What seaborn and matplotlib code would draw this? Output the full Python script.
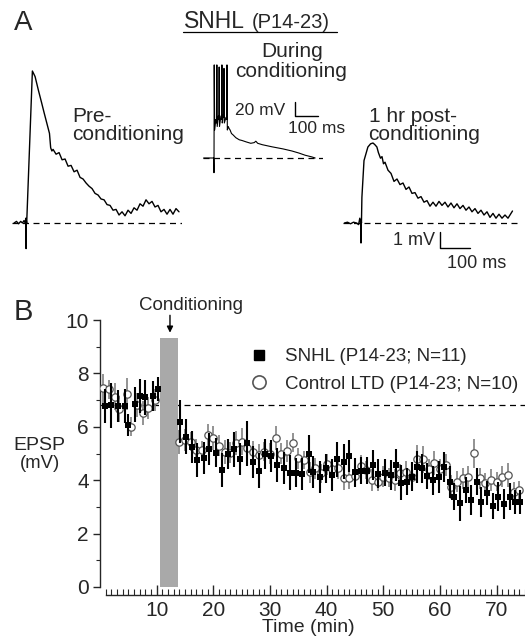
import numpy as np
import matplotlib
matplotlib.use('Agg')
import matplotlib.pyplot as plt
from matplotlib.lines import Line2D
import seaborn as sns

sns.set_style('ticks')
plt.rcParams['font.family'] = ['Liberation Sans', 'DejaVu Sans']

# ---------------- panel A traces (time in ms from stimulus, mV above rest) ----------------
pre_t = [-40, -32, -25, -18, -12, -7, -3, -1, 0, 0.5, 2, 21, 30, 41, 52, 60, 69, 78, 82, 86,
         90, 100, 110, 120, 130, 140, 150, 160, 170, 180, 190, 200, 210, 220, 230, 240, 250,
         260, 270, 280, 290, 300, 310, 320, 330, 340, 350, 360, 370, 380, 390, 400, 410, 420,
         430, 440, 450, 460, 470, 480, 490, 500, 510]
pre_v = [0.0, 0.1, -0.05, 0.1, 0.0, 0.15, 0.0, 0.3, -1.6, 0.2, 0.0, 9.5, 9.15, 8.3, 7.5, 6.9, 6.25, 5.6, 4.7, 4.5,
         4.6, 4.3, 4.4, 3.95, 4.0, 3.55, 3.6, 3.2, 3.3, 2.85, 2.75, 2.5, 2.3, 2.15, 1.85, 1.75, 1.5,
         1.45, 1.15, 1.1, 0.8, 0.85, 0.5, 0.7, 0.45, 0.8, 0.6, 0.95, 0.8, 1.2, 1.05, 1.45, 1.2, 1.35,
         1.0, 1.1, 0.7, 0.85, 0.55, 0.85, 0.55, 0.9, 0.7]

during_t = [-45, -10, -1, 0, 1, 3, 8, 11, 12.5, 14, 19, 21, 22.5, 24, 30, 33, 34.5, 36, 40, 42,
            43.5, 45, 52, 55, 56.5, 58, 62, 66, 70, 76, 83, 95, 110, 122, 140, 160, 175, 182,
            190, 210, 252, 300, 339, 370, 396, 426, 440]
during_v = [0, 0, 0, -21, 133, 40, 55, 50, 133, 45, 60, 55, 130, 45, 60, 55, 133, 50, 62, 58,
            128, 50, 58, 55, 133, 40, 45, 42, 40, 35, 33, 29, 26, 25, 23, 21, 22, 24,
            21, 19, 16, 13, 10, 7, 4, 1.5, 0]

post_t = [-55, -45, -35, -25, -15, -8, -4, -1, 0, 0.5, 1.5, 3, 10, 23, 32, 40, 46, 53, 58,
          65, 70, 75, 80, 90, 100, 110, 120, 130, 140, 150, 160, 170, 180, 190, 200, 210, 220,
          230, 240, 250, 260, 270, 280, 290, 300, 310, 320, 330, 340, 350, 360, 370, 380, 390,
          400, 410, 420, 430, 440, 450, 460, 470, 480, 490, 500, 505]
post_v = [0.0, 0.05, -0.05, 0.05, 0.0, -0.1, 0.3, 0.0, -1.25, 0.2, 0.0, 1.6, 3.9, 4.75, 4.95, 5.0, 4.9, 4.75, 4.4,
          4.05, 4.15, 3.7, 3.8, 3.3, 3.1, 2.6, 2.75, 2.4, 2.5, 2.1, 2.25, 1.85, 1.9, 1.55, 1.65, 1.3, 1.4,
          1.05, 1.3, 1.05, 1.35, 1.1, 1.3, 1.0, 1.25, 0.95, 1.2, 0.9, 1.1, 0.8, 1.0, 0.7, 0.9, 0.6,
          0.8, 0.5, 0.7, 0.35, 0.6, 0.3, 0.55, 0.3, 0.5, 0.3, 0.6, 0.75]

# ---------------- panel B: EPSP amplitude (mV) vs time (min) ----------------
baseline_mv = 6.8
cond_start, cond_end, cond_top = 10.6, 13.8, 9.33

snhl_time = [0.8, 1.9, 3.2, 4.4, 5.0, 6.1, 7.1, 8.0, 9.3, 10.2,
             14.1, 15.2, 16.2, 17.2, 18.3, 19.3, 20.5, 21.5, 22.5, 23.7,
             24.7, 25.9, 27.0, 28.1, 29.1, 30.2, 31.3, 32.4, 33.5, 34.6,
             35.6, 36.8, 37.6, 38.8, 39.8, 40.9, 41.9, 43.0, 44.0, 45.0,
             46.1, 47.1, 48.1, 49.1, 50.3, 51.3, 52.3, 53.2, 54.1, 55.0,
             55.9, 56.8, 57.7, 58.8, 59.9, 60.7, 61.7, 62.5, 63.5, 64.5,
             65.4, 66.5, 67.3, 68.3, 69.3, 70.3, 71.3, 72.3, 73.2, 74.1]
snhl_epsp = [6.78, 6.80, 6.78, 6.78, 6.07, 6.84, 7.15, 7.10, 7.15, 7.43,
             6.19, 5.63, 5.26, 4.76, 4.82, 5.16, 5.03, 4.38, 4.98, 5.16,
             4.78, 5.38, 4.69, 4.36, 4.98, 4.91, 4.57, 4.44, 4.28, 4.28,
             4.23, 4.98, 4.30, 4.13, 4.44, 4.20, 4.78, 4.69, 4.91, 4.30,
             4.36, 4.36, 4.57, 4.25, 4.28, 4.20, 4.57, 3.91, 3.94, 4.13,
             4.50, 4.44, 4.16, 4.00, 4.13, 4.50, 3.94, 3.38, 3.13, 3.63,
             3.26, 3.94, 3.19, 3.53, 3.03, 3.38, 3.11, 3.38, 3.19, 3.19]
snhl_sem = [0.65, 0.85, 0.6, 0.65, 0.4, 0.65, 0.65, 0.65, 0.55, 0.45,
            0.8, 0.65, 0.6, 0.65, 0.6, 0.6, 0.55, 0.65, 0.55, 0.65,
            0.6, 0.85, 0.6, 0.65, 0.55, 0.6, 0.65, 0.6, 0.65, 0.55,
            0.6, 0.7, 0.6, 0.6, 0.55, 0.6, 0.65, 0.65, 0.6, 0.55,
            0.5, 0.5, 0.55, 0.55, 0.5, 0.55, 0.6, 0.65, 0.5, 0.55,
            0.6, 0.55, 0.5, 0.55, 0.6, 0.55, 0.6, 0.5, 0.65, 0.5,
            0.55, 0.5, 0.55, 0.45, 0.5, 0.55, 0.55, 0.5, 0.45, 0.45]

ctrl_time = [0.6, 1.6, 2.6, 3.4, 4.7, 5.5, 6.5, 7.6, 8.5, 9.7] + list(range(14, 75))
ctrl_epsp = [7.44, 7.40, 7.13, 6.67, 7.23, 6.00, 6.80, 6.50, 6.70, 7.00,
             5.44, 5.50, 5.44, 5.13, 5.13, 5.69, 5.57, 5.29, 5.07, 5.03,
             5.38, 5.44, 5.20, 5.07, 4.94, 5.07, 5.00, 5.57, 5.00, 5.10,
             5.41, 4.82, 4.76, 4.30, 4.44, 4.26, 4.60, 4.41, 4.44, 4.10,
             4.07, 4.16, 4.53, 4.38, 4.01, 3.94, 4.13, 4.10, 4.01, 4.26,
             4.32, 4.13, 4.78, 4.78, 4.41, 4.63, 4.41, 4.57, 3.76, 3.94,
             4.07, 4.13, 5.01, 4.07, 3.91, 4.01, 3.94, 4.13, 4.19, 3.57,
             3.63]
ctrl_sem = [0.55, 0.35, 0.5, 0.5, 0.6, 0.35, 0.45, 0.45, 0.4, 0.4,
            0.45, 0.4, 0.35, 0.4, 0.35, 0.4, 0.45, 0.4, 0.45, 0.4,
            0.45, 0.5, 0.45, 0.4, 0.4, 0.35, 0.4, 0.45, 0.4, 0.4,
            0.35, 0.4, 0.35, 0.4, 0.4, 0.35, 0.4, 0.35, 0.4, 0.45,
            0.4, 0.35, 0.4, 0.35, 0.4, 0.35, 0.4, 0.35, 0.4, 0.35,
            0.4, 0.45, 0.55, 0.5, 0.4, 0.45, 0.4, 0.4, 0.45, 0.4,
            0.4, 0.4, 0.55, 0.4, 0.35, 0.4, 0.35, 0.4, 0.45, 0.35,
            0.35]

labels = ['SNHL (P14-23; N=11)', 'Control LTD (P14-23; N=10)']

# ---------------- figure ----------------
W, H = 525, 637
fig = plt.figure(figsize=(W / 100, H / 100), dpi=100)


def box(x0, y0, x1, y1):
    # pixel box measured from top-left -> figure fraction rect
    return [x0 / W, 1 - y1 / H, (x1 - x0) / W, (y1 - y0) / H]


def fx(x):
    return x / W


def fy(y):
    return 1 - y / H


dash = (0, (4.8, 3.6))

# Panel A
ax_pre = fig.add_axes(box(12, 60, 182, 260))
ax_dur = fig.add_axes(box(203, 60, 323, 180))
ax_post = fig.add_axes(box(343, 60, 522, 260))
for ax, t, v in [(ax_pre, pre_t, pre_v), (ax_dur, during_t, during_v), (ax_post, post_t, post_v)]:
    ax.axhline(0, color='black', lw=0.9, ls=dash)
    sns.lineplot(x=t, y=v, ax=ax, color='black', lw=1.0 if ax is not ax_dur else 0.8,
                 estimator=None, sort=False)
    ax.axis('off')
ax_pre.set(xlim=(-47, 520), ylim=(-2.3125, 10.1875))
ax_post.set(xlim=(-60, 536.7), ylim=(-2.3125, 10.1875))
ax_dur.set(xlim=(-47.8, 474), ylim=(-31.43, 140))

# scale bars
ax_post.plot([263, 263, 363], [-0.56, -1.56, -1.56], color='black', lw=1, clip_on=False)
ax_dur.plot([352, 352, 452], [80, 60, 60], color='black', lw=1, clip_on=False)

fs_big = 15
fig.text(fx(23), fy(23), 'A', fontsize=20, ha='center', va='center')
fig.text(fx(184), fy(28), 'SNHL', fontsize=16.5, ha='left', va='baseline')
fig.text(fx(252), fy(28), '(P14-23)', fontsize=14.5, ha='left', va='baseline')
fig.add_artist(Line2D([fx(183), fx(337)], [fy(31.5), fy(31.5)], color='black', lw=0.9))

fig.text(fx(292), fy(57), 'During', fontsize=fs_big, ha='center', va='baseline')
fig.text(fx(291), fy(77), 'conditioning', fontsize=fs_big, ha='center', va='baseline')
fig.text(fx(72), fy(122), 'Pre-', fontsize=fs_big, ha='left', va='baseline')
fig.text(fx(72), fy(140), 'conditioning', fontsize=fs_big, ha='left', va='baseline')
fig.text(fx(369), fy(122), '1 hr post-', fontsize=fs_big, ha='left', va='baseline')
fig.text(fx(368), fy(140), 'conditioning', fontsize=fs_big, ha='left', va='baseline')
fig.text(fx(285), fy(115), '20 mV', fontsize=12.5, ha='right', va='baseline')
fig.text(fx(288), fy(133), '100 ms', fontsize=12.5, ha='left', va='baseline')
fig.text(fx(435), fy(245), '1 mV', fontsize=13, ha='right', va='baseline')
fig.text(fx(447), fy(268), '100 ms', fontsize=13, ha='left', va='baseline')

# Panel B
axB = fig.add_axes(box(100, 320, 525, 587))
axB.axhline(baseline_mv, color='black', lw=0.9, ls=dash, zorder=1)
axB.axvspan(cond_start, cond_end, ymin=0, ymax=cond_top / 10, color='#a9a9a9', lw=0, zorder=2)

axB.errorbar(ctrl_time, ctrl_epsp, yerr=ctrl_sem, fmt='none', ecolor='#808080',
             elinewidth=1.2, capsize=0, zorder=3)
sns.scatterplot(x=ctrl_time, y=ctrl_epsp, ax=axB, marker='o', s=28, color='white',
                edgecolor='#555555', linewidth=0.9, zorder=4, legend=False)
axB.errorbar(snhl_time, snhl_epsp, yerr=snhl_sem, fmt='none', ecolor='black',
             elinewidth=1.5, capsize=0, zorder=5)
sns.scatterplot(x=snhl_time, y=snhl_epsp, ax=axB, marker='s', s=22, color='black',
                edgecolor='black', linewidth=0, zorder=6, legend=False)

axB.set_xlim(0, 75)
axB.set_ylim(0, 10)
sns.despine(ax=axB)
axB.spines['bottom'].set_position(('outward', 6))
axB.spines['bottom'].set_bounds(1, 75)
axB.spines['left'].set_bounds(0, 10)
for sp in ['left', 'bottom']:
    axB.spines[sp].set_linewidth(1.0)

axB.set_xticks(range(10, 71, 10))
axB.set_xticks(range(1, 76), minor=True)
axB.set_yticks(range(0, 11, 2))
axB.set_yticks(range(1, 10, 2), minor=True)
axB.tick_params(axis='x', which='major', direction='in', length=7, width=1, labelsize=15, pad=4)
axB.tick_params(axis='x', which='minor', direction='in', length=4, width=0.8)
axB.tick_params(axis='y', which='major', direction='out', length=5, width=1, labelsize=15, pad=3)
axB.tick_params(axis='y', which='minor', direction='out', length=3, width=0.8)
axB.set_xlabel('')
axB.set_ylabel('')

fig.text(fx(308), fy(627), 'Time (min)', fontsize=14, ha='center', va='center')
fig.text(fx(39), fy(445), 'EPSP', fontsize=14, ha='center', va='center')
fig.text(fx(40), fy(464), '(mV)', fontsize=13.3, ha='center', va='center')
fig.text(fx(23), fy(312), 'B', fontsize=21, ha='center', va='center')
fig.text(fx(191), fy(305), 'Conditioning', fontsize=13.5, ha='center', va='center')
axB.annotate('', xy=(12.35, 9.42), xytext=(12.35, 10.28),
             arrowprops=dict(arrowstyle='-|>', color='black', lw=1, mutation_scale=9),
             annotation_clip=False)

handles = [Line2D([], [], marker='s', color='black', ls='none', markersize=7.5),
           Line2D([], [], marker='o', markerfacecolor='white', markeredgecolor='#555555',
                  markeredgewidth=1.2, ls='none', markersize=9.5)]
axB.legend(handles, labels, loc='upper left', bbox_to_anchor=(fx(250), fy(348)),
           bbox_transform=fig.transFigure, frameon=False, fontsize=13.5,
           handlelength=1.0, handletextpad=0.85, labelspacing=0.55,
           borderpad=0, borderaxespad=0)

fig.savefig('out.png', dpi=100)
